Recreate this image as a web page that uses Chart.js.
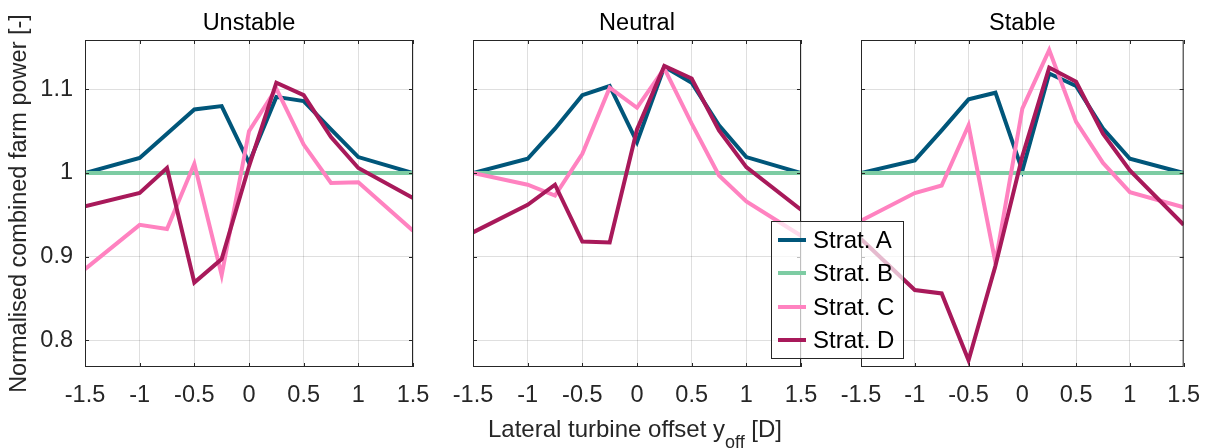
<!DOCTYPE html>
<html>
<head>
<meta charset="utf-8">
<script src="https://cdn.jsdelivr.net/npm/chart.js@4.4.1/dist/chart.umd.min.js"></script>
<style>
  html, body { margin: 0; padding: 0; background: #fff; }
  #wrap { position: relative; width: 1214px; height: 448px; overflow: hidden;
          font-family: "Liberation Sans", Arial, sans-serif; }
  #wrap canvas { position: absolute; left: 0; top: 0; }
  #xlabel { position: absolute; left: 0; width: 1270px; top: 417px; text-align: center;
            font-size: 24px; line-height: 24px; color: #262626; white-space: nowrap; }
  #xlabel sub { font-size: 18px; vertical-align: baseline; position: relative; top: 11px; }
  #legend { position: absolute; left: 771px; top: 221px; width: 131px; height: 136px;
            border: 1px solid #262626; background: rgba(255,255,255,0.7); }
  #legend .row { position: absolute; left: 0; height: 30px; width: 131px; }
  #legend .swatch { position: absolute; left: 6px; width: 28px; height: 4px; top: 13px; }
  #legend .lbl { position: absolute; left: 41px; top: 0; font-size: 24px; line-height: 30px; color: #000; white-space: nowrap; }
</style>
</head>
<body>
<div id="wrap">
  <canvas id="c0" width="1214" height="448"></canvas>
  <canvas id="c1" width="1214" height="448"></canvas>
  <canvas id="c2" width="1214" height="448"></canvas>
  <div id="xlabel">Lateral turbine offset y<sub>off</sub> [D]</div>
  <div id="legend"></div>
</div>
<script>
// Lateral offsets of the downstream turbine, in rotor diameters
const offsets = [-1.5, -1, -0.75, -0.5, -0.25, 0, 0.25, 0.5, 0.75, 1, 1.5];
const xTicks = [-1.5, -1, -0.5, 0, 0.5, 1, 1.5];
const yTicks = [0.8, 0.9, 1.0, 1.1];
const panelTitles = ['Unstable', 'Neutral', 'Stable'];
const seriesNames = ['Strat. A', 'Strat. B', 'Strat. C', 'Strat. D'];
const yAxisTitle = 'Normalised combined farm power [-]';

// Normalised combined farm power per stability class and strategy
const unstableA = [1.000, 1.018, 1.047, 1.076, 1.080, 1.012, 1.091, 1.086, 1.052, 1.019, 1.000];
const unstableB = [1.000, 1.000, 1.000, 1.000, 1.000, 1.000, 1.000, 1.000, 1.000, 1.000, 1.000];
const unstableC = [0.885, 0.938, 0.933, 1.011, 0.878, 1.050, 1.101, 1.034, 0.988, 0.989, 0.931];
const unstableD = [0.960, 0.976, 1.006, 0.869, 0.897, 1.008, 1.108, 1.093, 1.043, 1.006, 0.970];

const neutralA = [1.000, 1.017, 1.053, 1.093, 1.104, 1.037, 1.127, 1.108, 1.057, 1.019, 1.000];
const neutralB = [1.000, 1.000, 1.000, 1.000, 1.000, 1.000, 1.000, 1.000, 1.000, 1.000, 1.000];
const neutralC = [1.000, 0.986, 0.973, 1.023, 1.102, 1.078, 1.125, 1.059, 0.997, 0.966, 0.925];
const neutralD = [0.929, 0.962, 0.986, 0.918, 0.917, 1.052, 1.128, 1.113, 1.051, 1.007, 0.956];

const stableA = [1.000, 1.015, 1.051, 1.088, 1.096, 1.003, 1.119, 1.104, 1.053, 1.017, 1.000];
const stableB = [1.000, 1.000, 1.000, 1.000, 1.000, 1.000, 1.000, 1.000, 1.000, 1.000, 1.000];
const stableC = [0.943, 0.976, 0.985, 1.057, 0.893, 1.077, 1.147, 1.061, 1.012, 0.977, 0.959];
const stableD = [0.921, 0.860, 0.856, 0.776, 0.889, 1.020, 1.126, 1.109, 1.047, 1.003, 0.938];

const panelSeries = [
  [unstableA, unstableB, unstableC, unstableD],
  [neutralA, neutralB, neutralC, neutralD],
  [stableA, stableB, stableC, stableD]
];

// Styling
const seriesColors = ['#00567a', '#7dcca3', '#ff82c0', '#a8195a'];
const FONT = { family: '"Liberation Sans", Arial, sans-serif', size: 23.5 };
const TEXT = '#262626';
const GRID = 'rgba(38,38,38,0.15)';
const plotLeft = [85, 473, 861];
const plotRight = [413, 801, 1189];
const plotTop = 40, plotBottom = 367, canvasW = 1214, canvasH = 448;
const Y_MIN = 0.768, Y_MAX = 1.159;

// Axes box, inward tick marks and panel heading
const framePlugin = {
  id: 'frame',
  afterDraw(chart, args, opts) {
    const { ctx, chartArea: a, scales: { x, y } } = chart;
    ctx.save();
    ctx.strokeStyle = TEXT;
    ctx.lineWidth = 1;
    ctx.beginPath();
    for (const t of x.ticks) {
      const px = Math.round(x.getPixelForValue(t.value)) + 0.5;
      ctx.moveTo(px, a.top); ctx.lineTo(px, a.top + 4);
      ctx.moveTo(px, a.bottom); ctx.lineTo(px, a.bottom - 4);
    }
    for (const t of y.ticks) {
      const py = Math.round(y.getPixelForValue(t.value)) + 0.5;
      ctx.moveTo(a.left, py); ctx.lineTo(a.left + 4, py);
      ctx.moveTo(a.right, py); ctx.lineTo(a.right - 4, py);
    }
    ctx.stroke();
    ctx.strokeRect(a.left + 0.5, a.top + 0.5, a.width - 1, a.height - 1);
    ctx.fillStyle = '#000';
    ctx.font = FONT.size + 'px ' + FONT.family;
    ctx.textAlign = 'center';
    ctx.textBaseline = 'alphabetic';
    ctx.fillText(opts.text, (a.left + a.right) / 2, 30);
    ctx.restore();
  }
};

function makePanel(i) {
  const first = i === 0;
  const yWidth = first ? 85 : 0;
  const xHeight = 40;
  const datasets = panelSeries[i].map((vals, k) => ({
    label: seriesNames[k],
    data: offsets.map((o, j) => ({ x: o, y: vals[j] })),
    borderColor: seriesColors[k],
    backgroundColor: seriesColors[k],
    borderWidth: 4,
    pointRadius: 0,
    tension: 0,
    fill: false,
    order: 4 - k
  }));
  return new Chart(document.getElementById('c' + i), {
    type: 'line',
    data: { datasets },
    plugins: [framePlugin],
    options: {
      responsive: false,
      animation: false,
      devicePixelRatio: 1,
      events: [],
      layout: {
        padding: {
          left: plotLeft[i] - yWidth,
          right: canvasW - plotRight[i],
          top: plotTop,
          bottom: canvasH - plotBottom - xHeight
        }
      },
      plugins: {
        legend: { display: false },
        tooltip: { enabled: false },
        title: { display: false },
        frame: { text: panelTitles[i] }
      },
      scales: {
        x: {
          type: 'linear',
          min: -1.5, max: 1.5,
          afterBuildTicks: s => { s.ticks = xTicks.map(v => ({ value: v })); },
          afterFit: s => { s.height = xHeight; },
          grid: { color: GRID, lineWidth: 1, drawTicks: false },
          border: { display: false },
          ticks: {
            font: FONT, color: TEXT, padding: 14,
            maxRotation: 0, autoSkip: false,
            callback: v => String(v)
          }
        },
        y: {
          type: 'linear',
          min: Y_MIN, max: Y_MAX,
          afterBuildTicks: s => { s.ticks = yTicks.map(v => ({ value: v })); },
          afterFit: s => { s.width = yWidth; },
          grid: { color: GRID, lineWidth: 1, drawTicks: false },
          border: { display: false },
          ticks: {
            display: first,
            font: FONT, color: TEXT, padding: 12,
            callback: v => String(Math.round(v * 10) / 10)
          },
          title: {
            display: first,
            text: yAxisTitle,
            font: FONT, color: TEXT,
            padding: { top: 5, bottom: 0 }
          }
        }
      }
    }
  });
}

panelTitles.forEach((_, i) => makePanel(i));

// Legend of the four strategies
const legend = document.getElementById('legend');
seriesNames.forEach((name, k) => {
  const row = document.createElement('div');
  row.className = 'row';
  row.style.top = (3 + 33.3 * k) + 'px';
  const sw = document.createElement('div');
  sw.className = 'swatch';
  sw.style.background = seriesColors[k];
  const lbl = document.createElement('div');
  lbl.className = 'lbl';
  lbl.textContent = name;
  row.appendChild(sw);
  row.appendChild(lbl);
  legend.appendChild(row);
});
</script>
</body>
</html>
